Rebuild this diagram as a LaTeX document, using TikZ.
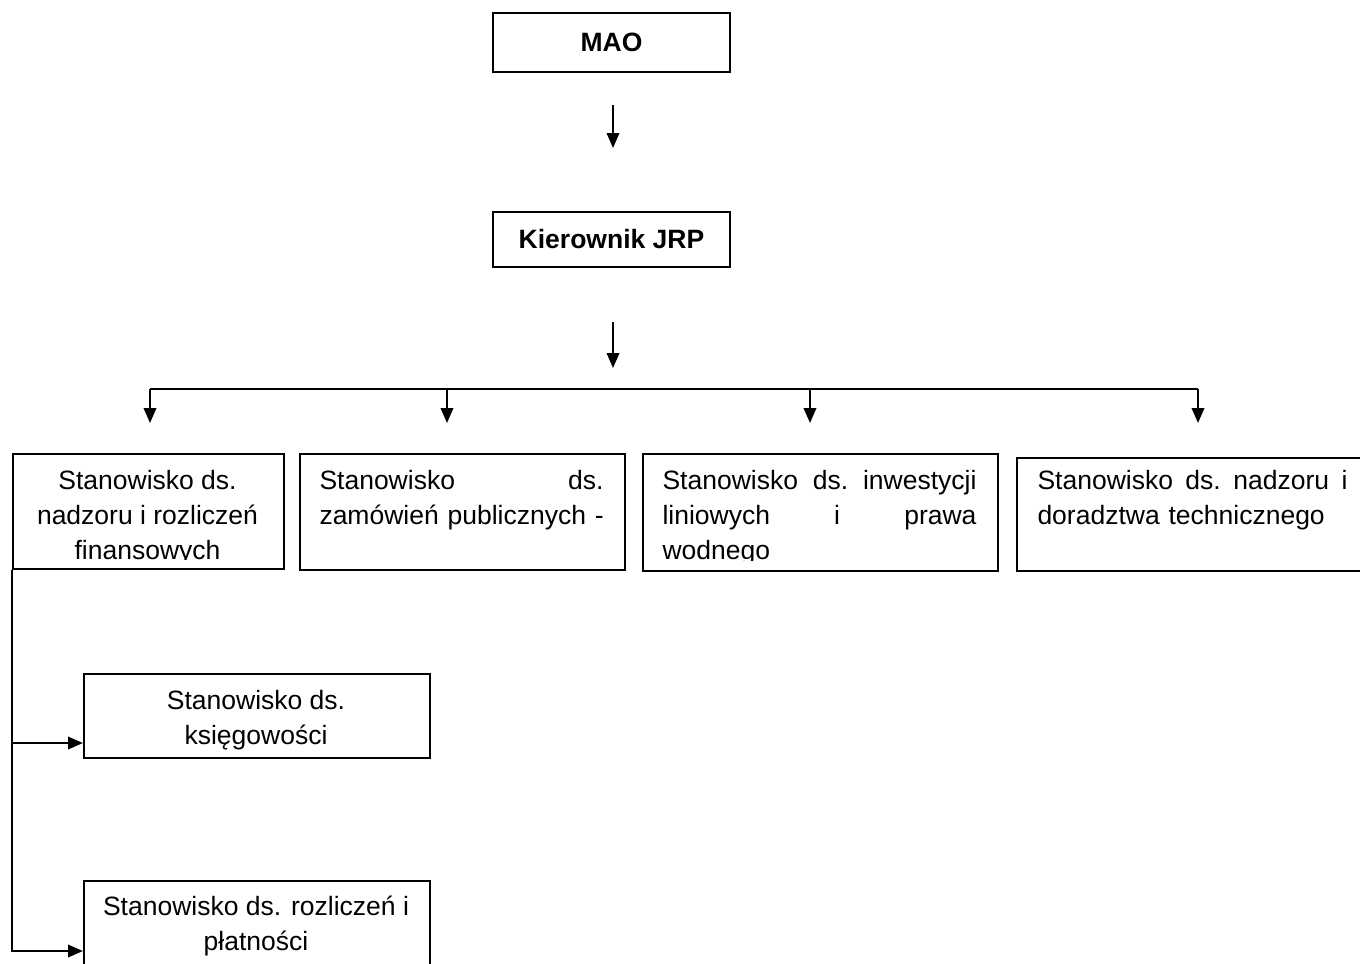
\documentclass[tikz,border=0pt]{standalone}
\usepackage{fontspec}
\setmainfont{Liberation Sans}
\usetikzlibrary{arrows.meta}

\begin{document}
\begin{tikzpicture}[x=0.4pt,y=-0.4pt,
  post/.style={draw, line width=0.8pt, inner sep=0pt, anchor=north west},
  txt/.style={inner sep=0pt, font=\fontsize{10.6}{14}\selectfont},
  head/.style={font=\fontsize{10.6}{14}\selectfont\bfseries},
  link/.style={line width=0.8pt, -{Triangle[length=6pt,width=5pt]}}]
\clip (0,0) rectangle (1360,963);

% Boxes
\node[post, head, anchor=center, minimum width=237*0.4pt, minimum height=59*0.4pt] (mao) at (611.5,42.5) {MAO};
\node[post, head, anchor=center, minimum width=237*0.4pt, minimum height=55*0.4pt] (kier) at (611.5,239.5) {Kierownik JRP};
\node[post, minimum width=271*0.4pt, minimum height=115*0.4pt] (b1) at (12,453) {};
\node[post, minimum width=325*0.4pt, minimum height=116*0.4pt] (b2) at (299,453) {};
\node[post, minimum width=355*0.4pt, minimum height=117*0.4pt] (b3) at (642,453) {};
\node[post, minimum width=360*0.4pt, minimum height=113*0.4pt] (b4) at (1016,457) {};
\node[post, minimum width=346*0.4pt, minimum height=84*0.4pt] (b5) at (83,673) {};
\node[post, minimum width=346*0.4pt, minimum height=140*0.4pt] (b6) at (83,880) {};

% Texts
\begin{scope}
\clip (12,453) rectangle (283,559);
\node[txt, anchor=north, align=center] (t1) at (147.5,470) {Stanowisko ds.\\nadzoru i rozliczeń\\finansowych};
\end{scope}
\node[txt, anchor=north west, text width=113.6pt, align=left] (t2) at (319,470) {Stanowisko\hfill ds.\\\mbox{zamówień publicznych -}};
\begin{scope}
\clip (642,453) rectangle (997,560);
\node[txt, anchor=north west, text width=125.6pt, align=left] (t3) at (662,470) {Stanowisko\hfill ds.\hfill inwestycji\\liniowych\hfill i\hfill prawa\\wodnego};
\end{scope}
\node[txt, anchor=north west, text width=124pt, align=left] (t4) at (1037,470) {Stanowisko\hfill ds.\hfill nadzoru\hfill i\\doradztwa technicznego};
\node[txt, anchor=north, align=center] (t5) at (256,690) {Stanowisko ds.\\księgowości};
\node[txt, anchor=north, align=center] (t6) at (256,895) {Stanowisko ds. rozliczeń i\\płatności};

% Points
\coordinate (a1) at (613,105);
\coordinate (a2) at (613,148);
\coordinate (a3) at (613,322);
\coordinate (a4) at (613,368);
\coordinate (bl) at (150,389);
\coordinate (br) at (1198,389);
\coordinate (d1) at (150,423);
\coordinate (d2) at (447,423);
\coordinate (d3) at (810,423);
\coordinate (d4) at (1198,423);
\coordinate (j5) at (12,743);

%Lines
\draw[link] (a1) -- (a2);
\draw[link] (a3) -- (a4);
\draw[line width=0.8pt] (bl) -- (br);
\draw[link] (bl) -- (d1);
\draw[link] (d2 |- bl) -- (d2);
\draw[link] (d3 |- bl) -- (d3);
\draw[link] (br) -- (d4);
\draw[link] (b1.south west) |- (b6.west);
\draw[link] (j5) -- (j5 -| b5.west);
\end{tikzpicture}
\end{document}
